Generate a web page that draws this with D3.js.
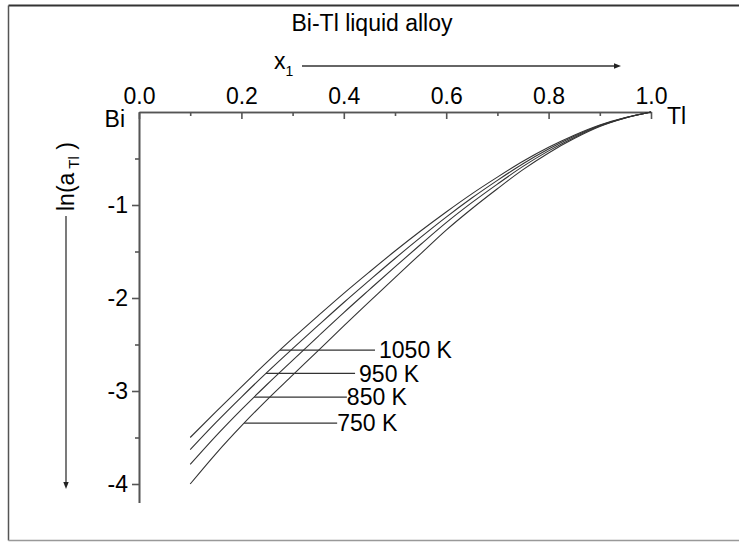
<!DOCTYPE html>
<html><head><meta charset="utf-8">
<script src="https://cdn.jsdelivr.net/npm/d3@7"></script>
<style>
body{margin:0;background:#fff}
text{font-family:"Liberation Sans",Arial,sans-serif;fill:#000}
</style>
</head><body>
<svg id="c" width="739" height="542"></svg>
<script>
// ---- data ----
const xValues   = [0.10,0.15,0.20,0.25,0.30,0.35,0.40,0.45,0.50,0.55,0.60,0.65,0.70,0.75,0.80,0.85,0.90,0.95,1.00];
const lnA_1050K = [-3.50,-3.225,-2.955,-2.69,-2.435,-2.19,-1.95,-1.72,-1.495,-1.28,-1.075,-0.88,-0.70,-0.53,-0.38,-0.25,-0.14,-0.06,0];
const lnA_950K  = [-3.63,-3.34,-3.065,-2.80,-2.545,-2.295,-2.048,-1.81,-1.575,-1.348,-1.13,-0.925,-0.735,-0.556,-0.398,-0.261,-0.145,-0.061,0];
const lnA_850K  = [-3.79,-3.485,-3.20,-2.93,-2.67,-2.412,-2.157,-1.91,-1.665,-1.425,-1.19,-0.975,-0.775,-0.585,-0.418,-0.273,-0.151,-0.063,0];
const lnA_750K  = [-4.00,-3.675,-3.375,-3.095,-2.83,-2.565,-2.30,-2.04,-1.78,-1.525,-1.27,-1.04,-0.825,-0.62,-0.44,-0.286,-0.157,-0.065,0];
const seriesLabels = ["1050 K","950 K","850 K","750 K"];
const labelLevels  = [-2.56,-2.81,-3.065,-3.345];   // ln(a) where each label leader sits
const labelEnds    = [0.461,0.422,0.406,0.387];     // x1 where each leader ends
const xTickValues  = [0.0,0.2,0.4,0.6,0.8,1.0];
const xMinorTicks  = [0.1,0.3,0.5,0.7,0.9];
const yTickValues  = [-1,-2,-3,-4];
const yMinorTicks  = [-0.5,-1.5,-2.5,-3.5];
const titleText = "Bi-Tl liquid alloy";

const allSeries = [lnA_1050K, lnA_950K, lnA_850K, lnA_750K];
const FONT = "Liberation Sans";
const FS = 23;

const svg = d3.select("#c");
// frame (top/left dark, bottom light, right edge outside the view)
svg.append("line").attr("x1",8.5).attr("x2",739).attr("y1",5.5).attr("y2",5.5).attr("stroke","#333").attr("stroke-width",1.8);
svg.append("line").attr("x1",8.5).attr("x2",8.5).attr("y1",5.5).attr("y2",540.5).attr("stroke","#555").attr("stroke-width",1.5);
svg.append("line").attr("x1",8.5).attr("x2",739).attr("y1",540.5).attr("y2",540.5).attr("stroke","#999").attr("stroke-width",1.5);

const x = d3.scaleLinear().domain([0,1]).range([139,651]);
const y = d3.scaleLinear().domain([0,-4.2]).range([112,502.6]);

// axes
const axisColor = "#555";
const gx = svg.append("g").attr("transform",`translate(0,${y(0)})`)
  .call(d3.axisTop(x).tickValues(xTickValues).tickFormat(d3.format(".1f"))
        .tickSizeInner(-7).tickSizeOuter(0).tickPadding(8));
const gxm = svg.append("g").attr("transform",`translate(0,${y(0)})`)
  .call(d3.axisTop(x).tickValues(xMinorTicks).tickFormat("").tickSizeInner(-4).tickSizeOuter(0));
const gy = svg.append("g").attr("transform",`translate(${x(0)},0)`)
  .call(d3.axisLeft(y).tickValues(yTickValues).tickFormat(d=>String(d))
        .tickSizeInner(7).tickSizeOuter(0).tickPadding(4));
const gym = svg.append("g").attr("transform",`translate(${x(0)},0)`)
  .call(d3.axisLeft(y).tickValues(yMinorTicks).tickFormat("").tickSizeInner(4).tickSizeOuter(0));
[gx,gxm,gy,gym].forEach(g=>{
  g.selectAll("path,line").attr("stroke",axisColor).attr("stroke-width",1.6);
  g.selectAll("text").attr("font-size",FS).attr("font-family",FONT).attr("fill","#000");
});

// curves
const line = d3.line().x((d,i)=>x(xValues[i])).y(d=>y(d)).curve(d3.curveMonotoneX);
svg.append("g").selectAll("path").data(allSeries).join("path")
  .attr("d",d=>line(d)).attr("fill","none").attr("stroke","#333").attr("stroke-width",1.1);

// label leaders: start where each curve reaches its label level
function xAtLevel(s, level){
  for(let i=0;i<s.length-1;i++){
    if((s[i]-level)*(s[i+1]-level)<=0){
      const t=(level-s[i])/(s[i+1]-s[i]);
      return xValues[i]+t*(xValues[i+1]-xValues[i]);
    }
  }
  return xValues[0];
}
allSeries.forEach((s,i)=>{
  const x0 = xAtLevel(s,labelLevels[i]);
  svg.append("line").attr("x1",x(x0)).attr("x2",x(labelEnds[i]))
    .attr("y1",y(labelLevels[i])).attr("y2",y(labelLevels[i]))
    .attr("stroke","#333").attr("stroke-width",1.3);
  svg.append("text").attr("x",x(labelEnds[i])+ (i<2?4:0)).attr("y",y(labelLevels[i]))
    .attr("dy","0.36em").attr("font-size",FS).text(seriesLabels[i]);
});

// title and annotations
svg.append("text").attr("x",372).attr("y",31).attr("text-anchor","middle").attr("font-size",FS).text(titleText);
const xl = svg.append("text").attr("x",274).attr("y",69).attr("font-size",FS);
xl.append("tspan").text("x");
xl.append("tspan").attr("dy",7).attr("font-size",14).text("1");
svg.append("line").attr("x1",302).attr("x2",615).attr("y1",66).attr("y2",66).attr("stroke","#333").attr("stroke-width",1.3);
svg.append("path").attr("d","M614,63.3L621,66L614,68.7Z").attr("fill","#222");

svg.append("text").attr("x",125).attr("y",127).attr("text-anchor","end").attr("font-size",FS).text("Bi");
svg.append("text").attr("x",667).attr("y",124).attr("font-size",FS).text("Tl");

const yl = svg.append("text").attr("transform","translate(74,211) rotate(-90)").attr("font-size",FS);
yl.append("tspan").text("ln(a");
yl.append("tspan").attr("dy",5).attr("font-size",15).text(" Tl");
yl.append("tspan").attr("dy",-5).text(" )");
svg.append("line").attr("x1",66).attr("x2",66).attr("y1",216).attr("y2",483).attr("stroke","#333").attr("stroke-width",1.3);
svg.append("path").attr("d","M63.3,482L66,489L68.7,482Z").attr("fill","#222");
</script>
</body></html>
